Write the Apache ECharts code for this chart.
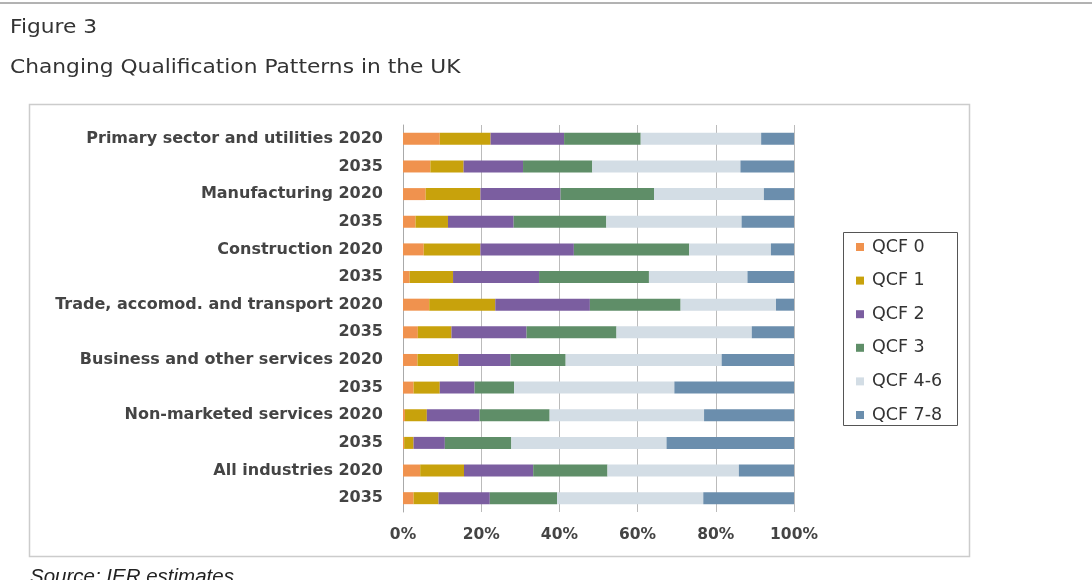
<!DOCTYPE html>
<html>
<head>
<meta charset="utf-8">
<script src="https://cdn.jsdelivr.net/npm/echarts@6/dist/echarts.min.js"></script>
<style>
  html, body { margin: 0; padding: 0; background: #fff; }
  #chart { width: 1092px; height: 580px; }
</style>
</head>
<body>
<div id="chart"></div>
<script>
// rows, top to bottom
var categories = [
  "Primary sector and utilities 2020", "2035",
  "Manufacturing 2020", "2035",
  "Construction 2020", "2035",
  "Trade, accomod. and transport 2020", "2035",
  "Business and other services 2020", "2035",
  "Non-marketed services 2020", "2035",
  "All industries 2020", "2035"
];

var seriesNames = ["QCF 0", "QCF 1", "QCF 2", "QCF 3", "QCF 4-6", "QCF 7-8"];

// shares in %
var qcf0  = [9.4, 7.0, 5.8, 3.2, 5.3, 1.7, 6.7, 3.8, 3.7, 2.7, 0.5, 0.3, 4.4, 2.7];
var qcf1  = [13.0, 8.5, 14.0, 8.3, 14.5, 11.1, 16.9, 8.6, 10.5, 6.7, 5.6, 2.4, 11.2, 6.4];
var qcf2  = [18.8, 15.2, 20.5, 16.8, 23.9, 22.0, 24.2, 19.2, 13.3, 8.9, 13.5, 8.0, 17.7, 13.1];
var qcf3  = [19.6, 17.7, 23.9, 23.7, 29.5, 28.1, 23.2, 23.0, 14.1, 10.1, 17.9, 17.0, 19.0, 17.2];
var qcf46 = [30.8, 37.9, 28.1, 34.6, 20.9, 25.2, 24.4, 34.6, 39.9, 41.0, 39.5, 39.7, 33.6, 37.4];
var qcf78 = [8.4, 13.7, 7.7, 13.4, 5.9, 11.9, 4.6, 10.8, 18.5, 30.6, 23.0, 32.6, 14.1, 23.2];

var xTicks = [0, 20, 40, 60, 80, 100];

var colors = ["#F0924E", "#C8A20C", "#7B5EA0", "#5F8E68", "#D3DDE5", "#6B8EAD"];
var values = [qcf0, qcf1, qcf2, qcf3, qcf46, qcf78];

var myChart = echarts.init(document.getElementById("chart"));

var series = seriesNames.map(function (name, i) {
  return {
    name: name,
    type: "bar",
    stack: "total",
    barWidth: 12,
    data: values[i],
    itemStyle: { color: colors[i] },
    emphasis: { disabled: true }
  };
});

// heading text is a bit wider than the font, stretch it
var headFont = "19px 'DejaVu Sans'";

myChart.setOption({
  animation: false,
  textStyle: { fontFamily: "DejaVu Sans" },
  title: {
    text: "Source: IER estimates.",
    left: 25, top: 562,
    textStyle: { fontFamily: "Liberation Sans", fontSize: 20.5, fontStyle: "italic", fontWeight: "normal", color: "#222" }
  },
  graphic: [
    { type: "line", shape: { x1: 0, y1: 3, x2: 1092, y2: 3 }, style: { stroke: "#666", lineWidth: 1 } },
    { type: "text", x: 10, y: 28, scaleX: 1.145, style: { text: "Figure 3", font: headFont, fill: "#333", verticalAlign: "middle" } },
    { type: "text", x: 10, y: 68, scaleX: 1.145, style: { text: "Changing Qualification Patterns in the UK", font: headFont, fill: "#333", verticalAlign: "middle" } },
    { type: "rect", shape: { x: 29.5, y: 104.5, width: 940, height: 452 }, style: { fill: "none", stroke: "#ccc", lineWidth: 1.5 }, z: -1 },
    { type: "rect", shape: { x: 843.5, y: 232.5, width: 114, height: 193 }, style: { fill: "none", stroke: "#555", lineWidth: 1 } }
  ],
  legend: {
    orient: "vertical",
    left: 856, top: 238,
    padding: 0,
    itemWidth: 8, itemHeight: 8, itemGap: 15.6,
    icon: "rect",
    textStyle: { fontSize: 17.5, color: "#333", lineHeight: 18, padding: [0, 0, 0, 3] },
    data: seriesNames
  },
  grid: { left: 403, right: 298, top: 125, bottom: 68 },
  xAxis: {
    type: "value",
    min: xTicks[0], max: xTicks[xTicks.length - 1], interval: 20,
    axisLine: { show: false },
    axisTick: { show: false },
    splitLine: { lineStyle: { color: "#bbb" } },
    axisLabel: { formatter: "{value}%", margin: 15, fontSize: 15.5, fontWeight: "bold", color: "#444" }
  },
  yAxis: {
    type: "category",
    inverse: true,
    data: categories,
    axisLine: { lineStyle: { color: "#aaa" } },
    axisTick: { length: 4, lineStyle: { color: "#aaa" } },
    axisLabel: { margin: 20, fontSize: 16, fontWeight: "bold", color: "#444" }
  },
  series: series
});
</script>
</body>
</html>
